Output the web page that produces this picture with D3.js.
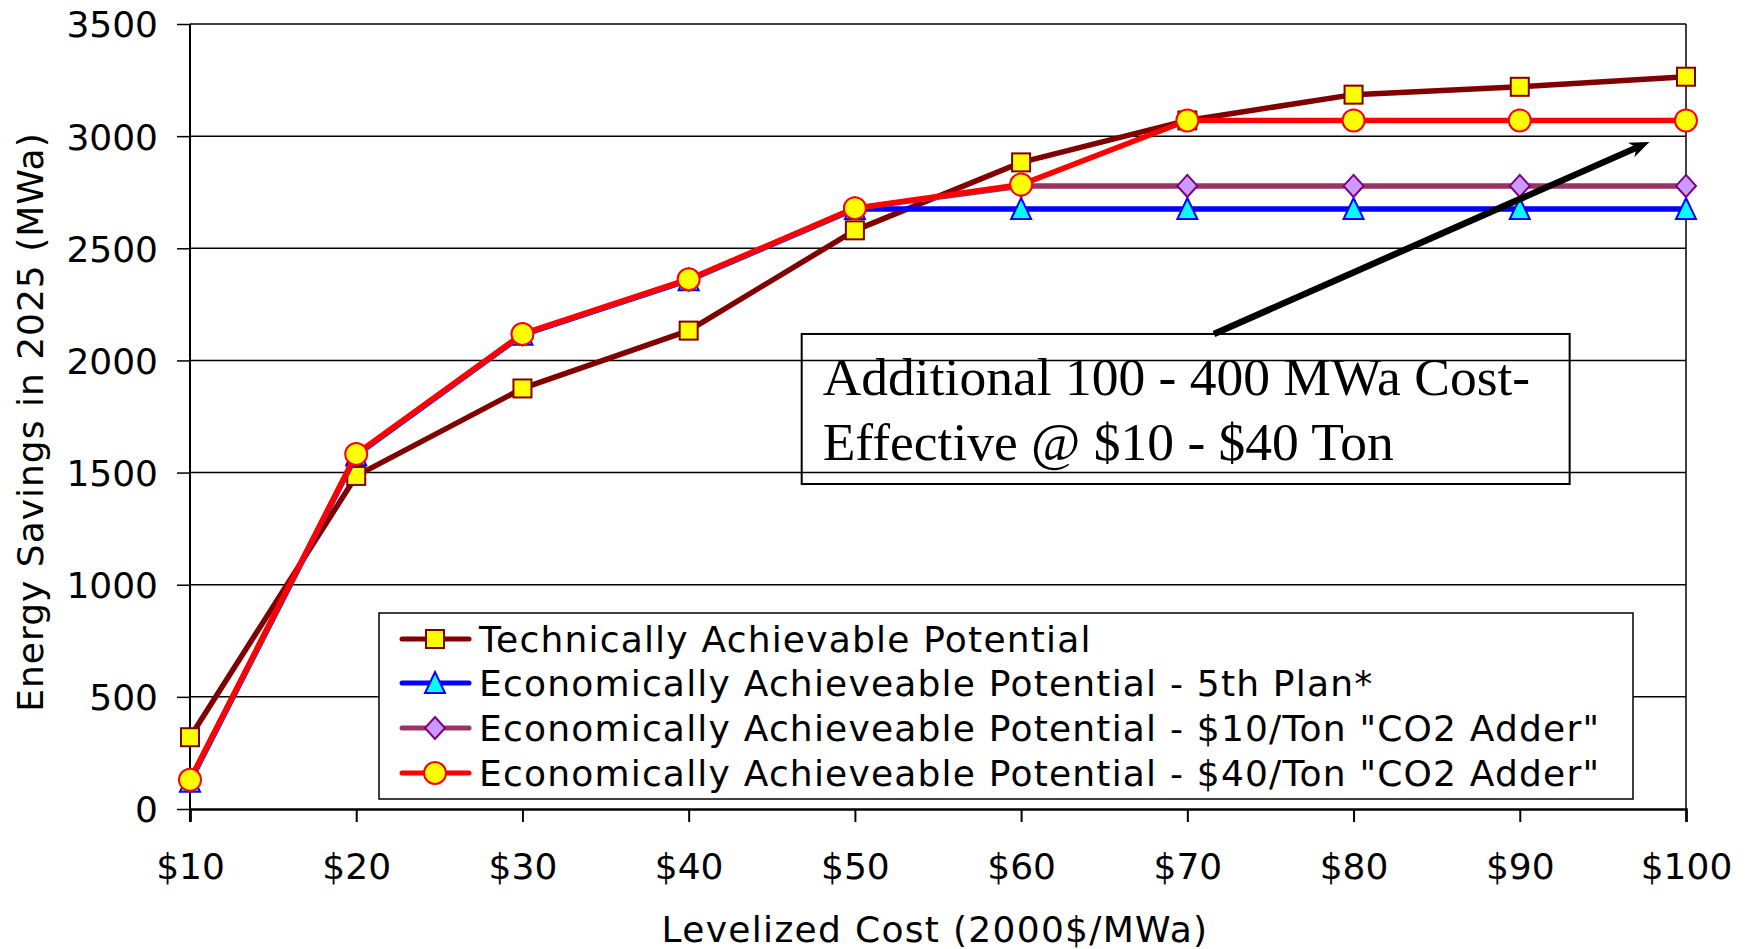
<!DOCTYPE html>
<html>
<head>
<meta charset="utf-8">
<script src="https://cdn.jsdelivr.net/npm/d3@7"></script>
<style>
  html, body { margin: 0; padding: 0; background: #fff; }
  svg { display: block; }
  .sans { font-family: "DejaVu Sans", Verdana, sans-serif; }
  .serif { font-family: "Liberation Serif", "Times New Roman", serif; }
</style>
</head>
<body>
<svg id="chart" width="1752" height="949"></svg>
<script>
// Levelized cost steps ($ per MWa, 2000 dollars)
const costs = [10, 20, 30, 40, 50, 60, 70, 80, 90, 100];
const costLabels = ["$10", "$20", "$30", "$40", "$50", "$60", "$70", "$80", "$90", "$100"];
const yTicks = [0, 500, 1000, 1500, 2000, 2500, 3000, 3500];

// Cumulative energy savings in 2025 (MWa)
const technical   = [320, 1485, 1875, 2133, 2580, 2883, 3070, 3185, 3220, 3265];
const fifthPlan   = [122, 1577, 2114, 2358, 2675, 2675, 2675, 2675, 2675, 2675];
const co2Adder10  = [126, 1580, 2116, 2360, 2678, 2778, 2778, 2778, 2778, 2778];
const co2Adder40  = [130, 1583, 2118, 2362, 2679, 2784, 3070, 3070, 3070, 3070];

const seriesNames = [
  "Technically Achievable Potential",
  "Economically Achieveable Potential - 5th Plan*",
  "Economically Achieveable Potential - $10/Ton \"CO2 Adder\"",
  "Economically Achieveable Potential - $40/Ton \"CO2 Adder\""
];

const noteLines = ["Additional 100 - 400 MWa Cost-", "Effective @ $10 - $40 Ton"];

const series = [
  { name: seriesNames[0], values: technical,  line: "#800000", fill: "#FFFF00", stroke: "#800000", shape: "square" },
  { name: seriesNames[1], values: fifthPlan,  line: "#0000FF", fill: "#00FFFF", stroke: "#0000FF", shape: "triangle" },
  { name: seriesNames[2], values: co2Adder10, line: "#993366", fill: "#CC99FF", stroke: "#800080", shape: "diamond" },
  { name: seriesNames[3], values: co2Adder40, line: "#FF0000", fill: "#FFFF00", stroke: "#FF0000", shape: "circle" }
];

const svg = d3.select("#chart");
const plotLeft = 190, plotRight = 1686, plotTop = 24, plotBottom = 809;

const x = d3.scaleLinear().domain([10, 100]).range([plotLeft, plotRight]);
const y = d3.scaleLinear().domain([0, 3500]).range([plotBottom, plotTop]);

// Value axis ticks and labels
svg.append("g")
  .attr("transform", `translate(${plotLeft},0)`)
  .call(d3.axisLeft(y).tickValues(yTicks).tickSize(13).tickFormat(d => d))
  .call(g => g.select(".domain").remove())
  .call(g => g.selectAll("line").attr("stroke", "#000").attr("stroke-width", 1.5))
  .call(g => g.selectAll("text").attr("class", "sans").attr("font-size", 36)
                .attr("fill", "#000").attr("x", -32).attr("dy", "0.36em"));

// Horizontal gridlines
svg.append("g")
  .selectAll("line")
  .data(yTicks.filter(d => d > 0))
  .join("line")
  .attr("x1", plotLeft).attr("x2", plotRight)
  .attr("y1", d => y(d)).attr("y2", d => y(d))
  .attr("stroke", "#000").attr("stroke-width", 1.5);

// Plot frame: right edge
svg.append("line")
  .attr("x1", plotRight).attr("x2", plotRight).attr("y1", plotTop).attr("y2", plotBottom)
  .attr("stroke", "#000").attr("stroke-width", 1.5);

// Category axis
svg.append("g")
  .attr("transform", `translate(0,${plotBottom})`)
  .call(d3.axisBottom(x).tickValues(costs).tickSize(13).tickFormat((d, i) => costLabels[i]))
  .call(g => g.select(".domain").attr("stroke", "#000").attr("stroke-width", 2.5))
  .call(g => g.selectAll("line").attr("stroke", "#000").attr("stroke-width", 2))
  .call(g => g.selectAll("text").attr("class", "sans").attr("font-size", 36)
                .attr("fill", "#000").attr("y", 44).attr("dy", "0.71em"));

// Value axis line
svg.append("line")
  .attr("x1", plotLeft).attr("x2", plotLeft).attr("y1", plotTop).attr("y2", plotBottom + 13)
  .attr("stroke", "#000").attr("stroke-width", 2);

// Axis titles
svg.append("text")
  .attr("class", "sans").attr("font-size", 36).attr("letter-spacing", 1)
  .attr("text-anchor", "middle")
  .attr("transform", `translate(43,422) rotate(-90)`)
  .text("Energy Savings in 2025 (MWa)");

svg.append("text")
  .attr("class", "sans").attr("font-size", 36).attr("letter-spacing", 1.3)
  .attr("text-anchor", "middle")
  .attr("x", 935).attr("y", 942)
  .text("Levelized Cost (2000$/MWa)");

// Marker shapes
function drawMarker(sel, shape, cx, cy, fill, stroke) {
  if (shape === "square") {
    sel.append("rect").attr("x", cx - 9).attr("y", cy - 9).attr("width", 18).attr("height", 18)
      .attr("fill", fill).attr("stroke", stroke).attr("stroke-width", 2);
  } else if (shape === "triangle") {
    sel.append("path").attr("d", `M${cx},${cy - 11}L${cx + 10},${cy + 10}L${cx - 10},${cy + 10}Z`)
      .attr("fill", fill).attr("stroke", stroke).attr("stroke-width", 2);
  } else if (shape === "diamond") {
    sel.append("path").attr("d", `M${cx},${cy - 11}L${cx + 10},${cy}L${cx},${cy + 11}L${cx - 10},${cy}Z`)
      .attr("fill", fill).attr("stroke", stroke).attr("stroke-width", 2);
  } else {
    sel.append("circle").attr("cx", cx).attr("cy", cy).attr("r", 11)
      .attr("fill", fill).attr("stroke", stroke).attr("stroke-width", 2);
  }
}

const line = d3.line().x((d, i) => x(costs[i])).y(d => y(d));

// Series: line followed by its markers, in series order
series.forEach(s => {
  const g = svg.append("g");
  g.append("path").attr("d", line(s.values))
    .attr("fill", "none").attr("stroke", s.line).attr("stroke-width", 5.5)
    .attr("stroke-linejoin", "round");
  s.values.forEach((v, i) => drawMarker(g, s.shape, x(costs[i]), y(v), s.fill, s.stroke));
});

// Annotation box with callout arrow (data coordinates)
const noteBox = { x0: 46.8, x1: 93.0, y0: 2118, y1: 1449 };
const arrowFrom = { cost: 71.6, value: 2118 };
const arrowTo = { cost: 97.8, value: 2974 };

svg.append("rect")
  .attr("x", x(noteBox.x0)).attr("y", y(noteBox.y0))
  .attr("width", x(noteBox.x1) - x(noteBox.x0)).attr("height", y(noteBox.y1) - y(noteBox.y0))
  .attr("fill", "none").attr("stroke", "#000").attr("stroke-width", 2);

noteLines.forEach((t, i) => {
  svg.append("text").attr("class", "serif").attr("font-size", 53.5)
    .attr("x", x(noteBox.x0) + 21).attr("y", y(noteBox.y0) + 61 + i * 65)
    .text(t);
});

{
  const x1 = x(arrowFrom.cost), y1 = y(arrowFrom.value);
  const x2 = x(arrowTo.cost), y2 = y(arrowTo.value);
  const dx = x2 - x1, dy = y2 - y1, len = Math.hypot(dx, dy);
  const ux = dx / len, uy = dy / len, px = -uy, py = ux;
  const headLen = 20, headW = 8, notch = 6;
  const bx = x2 - ux * headLen, by = y2 - uy * headLen;
  svg.append("line")
    .attr("x1", x1).attr("y1", y1)
    .attr("x2", x2 - ux * (headLen - notch)).attr("y2", y2 - uy * (headLen - notch))
    .attr("stroke", "#000").attr("stroke-width", 6.5);
  svg.append("path")
    .attr("d", `M${x2},${y2}L${bx + px * headW},${by + py * headW}` +
               `L${x2 - ux * (headLen - notch)},${y2 - uy * (headLen - notch)}` +
               `L${bx - px * headW},${by - py * headW}Z`)
    .attr("fill", "#000");
}

// Legend
const legend = svg.append("g");
legend.append("rect")
  .attr("x", 379).attr("y", 613).attr("width", 1254).attr("height", 186)
  .attr("fill", "#fff").attr("stroke", "#000").attr("stroke-width", 1.5);

const rowY = [639, 683, 728, 773];
series.forEach((s, i) => {
  const ry = rowY[i];
  legend.append("line").attr("x1", 402).attr("x2", 469).attr("y1", ry).attr("y2", ry)
    .attr("stroke", s.line).attr("stroke-width", 5).attr("stroke-linecap", "round");
  drawMarker(legend, s.shape, 435, ry, s.fill, s.stroke);
  legend.append("text").attr("class", "sans").attr("font-size", 36).attr("letter-spacing", 1.2)
    .attr("x", 479).attr("y", ry + 13).text(s.name);
});
</script>
</body>
</html>
